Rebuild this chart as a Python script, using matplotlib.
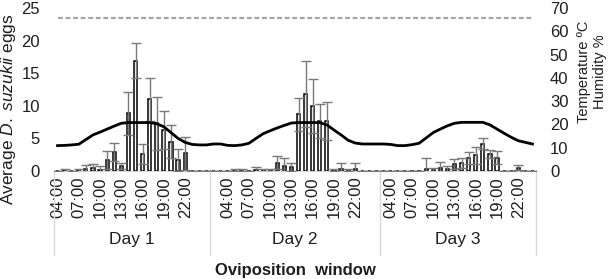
import matplotlib.pyplot as plt
import matplotlib.transforms as mtransforms
import numpy as np

plt.rcParams['font.family'] = 'Liberation Sans'
plt.rcParams['mathtext.fontset'] = 'custom'
plt.rcParams['mathtext.rm'] = 'Liberation Sans'
plt.rcParams['mathtext.it'] = 'Liberation Sans:italic'

# categories
days = ['Day 1', 'Day 2', 'Day 3']
day1_hours = ['04:00', '05:00', '06:00', '07:00', '08:00', '09:00', '10:00', '11:00',
              '12:00', '13:00', '14:00', '15:00', '16:00', '17:00', '18:00', '19:00',
              '20:00', '21:00', '22:00', '23:00', '00:00', '01:00']
day2_hours = ['02:00', '03:00', '04:00', '05:00', '06:00', '07:00', '08:00', '09:00',
              '10:00', '11:00', '12:00', '13:00', '14:00', '15:00', '16:00', '17:00',
              '18:00', '19:00', '20:00', '21:00', '22:00', '23:00', '00:00', '01:00']
day3_hours = ['03:00', '04:00', '05:00', '06:00', '07:00', '08:00', '09:00', '10:00',
              '11:00', '12:00', '13:00', '14:00', '15:00', '16:00', '17:00', '18:00',
              '19:00', '20:00', '21:00', '22:00', '23:00', '00:00']
shown_hours = ['04:00', '07:00', '10:00', '13:00', '16:00', '19:00', '22:00']

# average eggs and error
day1_eggs = [0, 0.1, 0, 0.1, 0.3, 0.4, 0.2, 1.7, 2.9, 0.8, 8.85, 16.9, 2.55, 11.0, 7.3,
             6.3, 4.5, 1.7, 2.7, 0, 0, 0]
day1_err = [0, 0.2, 0, 0.25, 0.6, 0.6, 0.6, 1.4, 1.4, 0.5, 3.3, 2.7, 1.55, 3.3, 4.1,
            2.95, 2.55, 1.7, 2.5, 0, 0, 0]
day2_eggs = [0, 0, 0, 0.1, 0.1, 0, 0.2, 0.1, 0.1, 1.3, 0.8, 0.65, 8.7, 11.8, 10.0, 7.6,
             7.7, 0.1, 0.3, 0.1, 0.3, 0, 0, 0]
day2_err = [0, 0, 0, 0.15, 0.15, 0, 0.45, 0.2, 0.2, 1.0, 1.2, 0.65, 2.5, 5.1, 4.1, 2.6,
            2.9, 0.15, 1.0, 0.15, 1.0, 0, 0, 0]
day3_eggs = [0, 0, 0, 0, 0, 0, 0.3, 0.1, 0.4, 0.3, 1.1, 1.2, 1.95, 2.4, 4.2, 2.6, 2.0,
             0, 0, 0.5, 0, 0]
day3_err = [0, 0, 0, 0, 0, 0, 1.75, 0.4, 1.0, 0.5, 0.8, 0.8, 0.9, 1.3, 0.9, 0.6, 1.0,
            0, 0, 0.4, 0, 0]

# temperature (C)
day1_temp = [10.9, 11.0, 11.2, 11.5, 13.5, 15.5, 16.7, 18.0, 19.3, 20.5, 20.8, 20.8,
             20.8, 20.8, 20.3, 19.0, 16.5, 14.0, 12.3, 11.4, 11.2, 11.2]
day2_temp = [11.6, 11.6, 11.0, 10.9, 11.2, 11.9, 14.0, 16.0, 17.3, 18.5, 19.6, 20.6,
             20.8, 20.8, 20.8, 20.8, 19.8, 17.6, 15.5, 13.2, 12.0, 11.6, 11.6, 11.6]
day3_temp = [11.6, 11.4, 10.9, 10.9, 11.3, 11.9, 14.2, 16.5, 18.0, 19.4, 20.5, 20.9,
             20.9, 20.9, 20.9, 19.8, 18.0, 16.2, 14.5, 13.0, 12.3, 11.6]

# humidity (%)
day1_hum = [65.5, 65.5, 65.5, 65.5, 65.5, 65.5, 65.5, 65.5, 65.5, 65.5, 65.5, 65.5,
            65.5, 65.5, 65.5, 65.5, 65.5, 65.5, 65.5, 65.5, 65.5, 65.5]
day2_hum = [65.5, 65.5, 65.5, 65.5, 65.5, 65.5, 65.5, 65.5, 65.5, 65.5, 65.5, 65.5,
            65.5, 65.5, 65.5, 65.5, 65.5, 65.5, 65.5, 65.5, 65.5, 65.5, 65.5, 65.5]
day3_hum = [65.5, 65.5, 65.5, 65.5, 65.5, 65.5, 65.5, 65.5, 65.5, 65.5, 65.5, 65.5,
            65.5, 65.5, 65.5, 65.5, 65.5, 65.5, 65.5, 65.5, 65.5, 65.5]

hours = day1_hours + day2_hours + day3_hours
eggs = day1_eggs + day2_eggs + day3_eggs
err = day1_err + day2_err + day3_err
temp = day1_temp + day2_temp + day3_temp
hum = day1_hum + day2_hum + day3_hum
x = np.arange(len(hours))
sizes = [len(day1_hours), len(day2_hours), len(day3_hours)]
edges = np.concatenate([[0], np.cumsum(sizes)]) - 0.5

txt = '#1e1e1e'
fig = plt.figure(figsize=(6.15, 2.79), dpi=100)
ax = fig.add_axes([54 / 615, 1 - 171 / 279, 482 / 615, 163 / 279])

ax.bar(x, eggs, width=0.45, color='white', edgecolor='black', linewidth=1.1, zorder=2)
ax.errorbar(x, eggs, yerr=err, fmt='none', ecolor='#7a7a7a', elinewidth=1.0,
            capsize=3.5, capthick=1.0, zorder=3)

ax.set_xlim(-0.5, len(hours) - 0.5)
ax.set_ylim(0, 25)
ax.set_yticks([0, 5, 10, 15, 20, 25])
ax.tick_params(axis='y', length=0, pad=10, labelsize=12, labelcolor=txt)

tick_pos = [i for i, h in enumerate(hours) if h in shown_hours]
ax.set_xticks(tick_pos)
ax.set_xticklabels([hours[i] for i in tick_pos], rotation=90)
ax.tick_params(axis='x', length=0, pad=4, labelsize=12, labelcolor=txt)

for s in ['top', 'right', 'left']:
    ax.spines[s].set_visible(False)
ax.spines['bottom'].set_color('#d9d9d9')

trans = mtransforms.blended_transform_factory(ax.transData, ax.transAxes)
for e in edges:
    ax.plot([e, e], [0, -0.515], color='#d9d9d9', lw=1, transform=trans, clip_on=False)
for i, d in enumerate(days):
    ax.text((edges[i] + edges[i + 1]) / 2, -0.42, d, transform=trans, ha='center',
            va='center', fontsize=12.5, color=txt)

ax2 = ax.twinx()
ax2.set_ylim(0, 70)
ax2.set_yticks(range(0, 71, 10))
ax2.tick_params(axis='y', length=0, pad=10, labelsize=12, labelcolor=txt)
for s in ax2.spines.values():
    s.set_visible(False)
ax2.plot(x, hum, color='#a6a6a6', lw=1.6, linestyle=(0, (2.2, 1.2)))
ax2.plot(x, temp, color='black', lw=2)

fig.text(9 / 615, 1 - 109 / 279, r'Average $\it{D.\ suzukii}$ eggs', rotation=90,
         ha='center', va='center', fontsize=12.5, color=txt)
fig.text(592 / 615, 1 - 72 / 279, 'Temperature ºC\nHumidity %', rotation=90,
         ha='center', va='center', fontsize=10.5, color=txt, multialignment='center',
         linespacing=1.2)
fig.text(295 / 615, 1 - 270 / 279, 'Oviposition  window', ha='center', va='center',
         fontsize=12, fontweight='bold', color=txt)

fig.savefig('out.png', dpi=100)
